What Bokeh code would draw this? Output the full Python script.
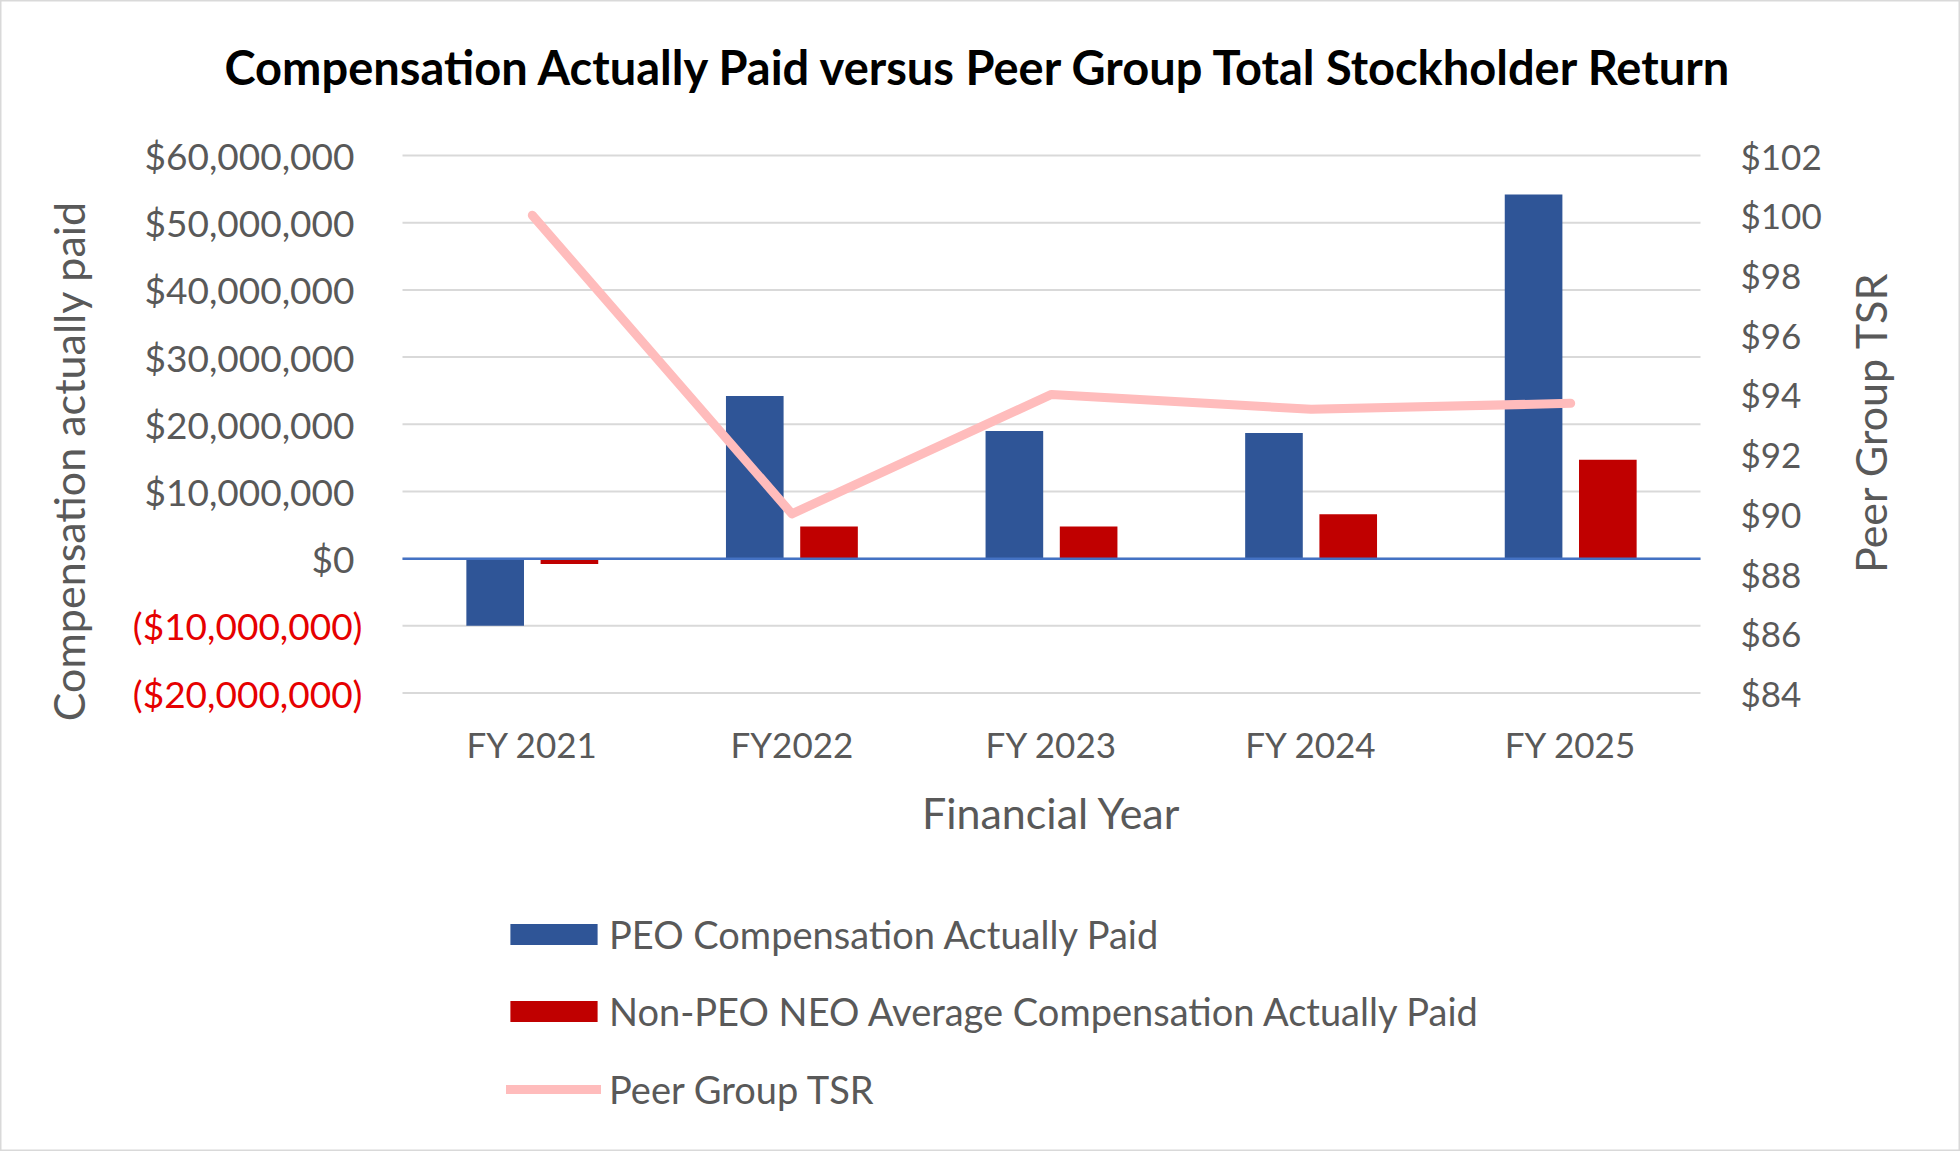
import math
from bokeh.plotting import figure
from bokeh.models import (Range1d, LinearAxis, FixedTicker, NumeralTickFormatter,
                          ColumnDataSource, Label, Legend, LegendItem)
from bokeh.transform import dodge
from bokeh.embed import file_html
from bokeh.resources import INLINE

# ---------------- data ----------------
years = ["FY 2021", "FY2022", "FY 2023", "FY 2024", "FY 2025"]
peo_cap = [-10.0e6, 24.2e6, 19.0e6, 18.7e6, 54.2e6]
neo_cap = [-0.8e6, 4.8e6, 4.8e6, 6.6e6, 14.7e6]
peer_tsr = [100.0, 90.0, 94.0, 93.5, 93.7]
pos_ticks = [0, 10e6, 20e6, 30e6, 40e6, 50e6, 60e6]
neg_ticks = [-20e6, -10e6]
neg_tick_labels = ["($20,000,000)", "($10,000,000)"]
right_ticks = [84, 86, 88, 90, 92, 94, 96, 98, 100, 102]

title_text = "Compensation Actually Paid versus Peer Group Total Stockholder Return"
series_names = ["PEO Compensation Actually Paid",
                "Non-PEO NEO Average Compensation Actually Paid",
                "Peer Group TSR"]

# ---------------- styles / layout ----------------
FONT = "Lato"
GRAY = "#595959"
BLUE = "#2F5597"
RED = "#C00000"
NEG_RED = "#E60000"
PINK = "#FFBCBC"
GRID = "#D9D9D9"
ZERO = "#4472C4"

W, H = 1960, 1151
PL, PR, PT, PB = 402, 1700, 155, 692.5      # plot area in canvas pixels

n = len(years)
xc = [i + 0.5 for i in range(n)]            # category centres on a numeric axis
lo, hi = neg_ticks[0], pos_ticks[-1]
r_lo, r_hi = right_ticks[0], right_ticks[-1]

kx = (PR - PL) / n
ky = (PB - PT) / (hi - lo)
kr = (PB - PT) / (r_hi - r_lo)
x_range = Range1d(-PL / kx, n + (W - PR) / kx)
y_range = Range1d(lo - (H - PB) / ky, hi + PT / ky)
r_range = Range1d(r_lo - (H - PB) / kr, r_hi + PT / kr)

src = ColumnDataSource(dict(xc=xc, year=years, peo=peo_cap, neo=neo_cap, tsr=peer_tsr))

p = figure(width=W, height=H, x_range=x_range, y_range=y_range, title=None,
           x_axis_location=None, y_axis_location=None,
           output_backend="svg", toolbar_location=None,
           min_border=0, min_border_left=0, min_border_right=0,
           min_border_top=0, min_border_bottom=0)
p.extra_y_ranges = {"tsr": r_range}
p.outline_line_color = GRID
p.outline_line_width = 2
p.background_fill_color = "white"
p.border_fill_color = "white"
for g in p.grid:
    g.visible = False
p.xgrid.visible = False
p.ygrid.visible = False


def style_axis(ax, standoff, label_standoff, fs, color=GRAY):
    ax.axis_line_color = None
    ax.major_tick_line_color = None
    ax.minor_tick_line_color = None
    ax.major_tick_out = 0
    ax.major_tick_in = 0
    ax.minor_tick_out = 0
    ax.minor_tick_in = 0
    ax.major_label_standoff = standoff
    ax.major_label_text_font = FONT
    ax.major_label_text_font_size = fs
    ax.major_label_text_color = color
    ax.axis_label_text_font = FONT
    ax.axis_label_text_font_size = "43px"
    ax.axis_label_text_font_style = "normal"
    ax.axis_label_text_color = GRAY
    ax.axis_label_standoff = label_standoff


# left axis: non-negative values (gray)
ya = LinearAxis(fixed_location=0, ticker=FixedTicker(ticks=pos_ticks),
                formatter=NumeralTickFormatter(format="$0,0"),
                axis_label="Compensation actually paid", bounds=(-31e6, hi))
style_axis(ya, 48, 48, "37px")
p.add_layout(ya, "left")

# left axis: negative values (red, in parentheses)
yneg = LinearAxis(fixed_location=0, ticker=FixedTicker(ticks=neg_ticks),
                  major_label_overrides={v: t for v, t in zip(neg_ticks, neg_tick_labels)})
style_axis(yneg, 40, 0, "37px", color=NEG_RED)
p.add_layout(yneg, "left")

# right axis: peer group TSR (title reads bottom-to-top, anchored at its start)
ra = LinearAxis(fixed_location=n, y_range_name="tsr", ticker=FixedTicker(ticks=right_ticks),
                formatter=NumeralTickFormatter(format="$0"),
                axis_label="Peer Group TSR", bounds=(74.04, r_hi))
style_axis(ra, 40, 46, "35px")
ra.axis_label_orientation = math.pi / 2
p.add_layout(ra, "right")

# x axis: financial years
xa = LinearAxis(fixed_location=lo, ticker=FixedTicker(ticks=xc),
                major_label_overrides={x: t for x, t in zip(xc, years)},
                axis_label="Financial Year", bounds=(0, n))
style_axis(xa, 30, 18, "35px")
p.add_layout(xa, "below")

# horizontal grid lines at the left-axis ticks
grid_ticks = neg_ticks + pos_ticks
p.segment(x0=0, x1=n, y0=grid_ticks, y1=grid_ticks, line_color=GRID, line_width=2,
          level="underlay")

# bars
r_peo = p.vbar(x=dodge("xc", -0.143), top="peo", width=0.222,
               source=src, fill_color=BLUE, line_color=None)
r_neo = p.vbar(x=dodge("xc", 0.143), top="neo", width=0.222,
               source=src, fill_color=RED, line_color=None)

# zero line
p.segment(x0=0, x1=n, y0=0, y1=0, line_color=ZERO, line_width=2.5)

# TSR line
r_tsr = p.line(x="xc", y="tsr", source=src, y_range_name="tsr", line_color=PINK,
               line_width=9, line_cap="round", line_join="round")

# title
p.add_layout(Label(x=980, y=H - 66.5, x_units="screen", y_units="screen", text=title_text,
                   text_align="center", text_baseline="middle", text_font=FONT,
                   text_font_size="47px", text_font_style="bold", text_color="black"))

# legends
leg_common = dict(orientation="vertical", background_fill_alpha=0, border_line_alpha=0,
                  padding=0, margin=0, spacing=24, glyph_height=26, label_height=53,
                  label_text_font=FONT, label_text_font_size="38px",
                  label_text_color=GRAY, label_text_baseline="alphabetic")
leg_bars = Legend(items=[LegendItem(label=series_names[0], renderers=[r_peo]),
                         LegendItem(label=series_names[1], renderers=[r_neo])],
                  location=(499, 113.5), glyph_width=109, label_standoff=1, **leg_common)
leg_line = Legend(items=[LegendItem(label=series_names[2], renderers=[r_tsr])],
                  location=(506, 36), glyph_width=95, label_standoff=8, **leg_common)
p.add_layout(leg_bars)
p.add_layout(leg_line)

open("out.html", "w").write(file_html(p, INLINE))
